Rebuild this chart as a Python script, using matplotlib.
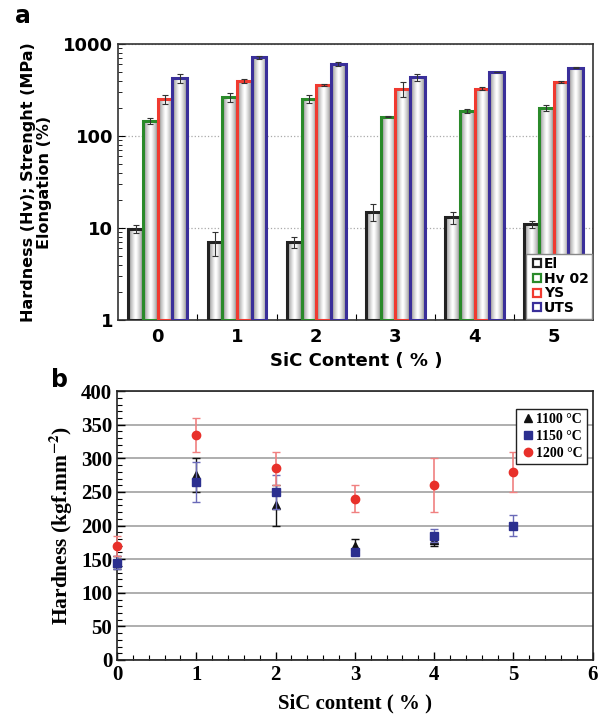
import numpy as np
import matplotlib
matplotlib.use('Agg')
import matplotlib.pyplot as plt
from matplotlib.lines import Line2D

plt.rcParams['mathtext.fontset'] = 'stix'

# ---- panel a data ----
sic = [0, 1, 2, 3, 4, 5]
props = ['El', 'Hv 02', 'YS', 'UTS']
el = [9.8, 7.0, 7.0, 15.0, 13.0, 11.0]
el_err = [1.0, 2.0, 1.0, 3.0, 2.0, 1.0]
hv = [146, 263, 252, 162, 187, 200]
hv_err = [10, 30, 25, 3, 8, 15]
ys = [252, 396, 358, 322, 327, 383]
ys_err = [30, 20, 10, 60, 10, 10]
uts = [424, 717, 606, 435, 496, 553]
uts_err = [45, 25, 30, 35, 5, 10]

# ---- panel b data ----
t1100_x = [0, 1, 2, 3, 4]
t1100 = [145, 275, 230, 170, 178]
t1100_err = [10, 25, 30, 10, 8]
t1150_x = [0, 1, 2, 3, 4, 5]
t1150 = [145, 265, 250, 160, 185, 200]
t1150_err = [10, 30, 25, 3, 10, 15]
t1200_x = [0, 1, 2, 3, 4, 5]
t1200 = [170, 335, 285, 240, 260, 280]
t1200_err = [15, 25, 25, 20, 40, 30]

fig = plt.figure(figsize=(6, 7.17), dpi=100)

# ================= panel a =================
ax = fig.add_axes([0.197, 0.5537, 0.792, 0.385])
ax.set_yscale('log')
w = 0.185
edge_cols = ['#222222', '#2a8a2a', '#f03a30', '#3a2f9a']
grad = np.abs(np.linspace(-1, 1, 64)) ** 1.3
grad = (1 - 0.45 * grad)[None, :]
x = np.array(sic, dtype=float)
for i, (vals, errs) in enumerate(zip([el, hv, ys, uts], [el_err, hv_err, ys_err, uts_err])):
    xs = x + (i - 1.5) * w
    vals = np.array(vals, dtype=float)
    bars = ax.bar(xs, vals - 1, width=w, bottom=1, facecolor='none', edgecolor=edge_cols[i],
                  linewidth=2.2, zorder=4)
    for b, v in zip(bars, vals):
        x0 = b.get_x()
        im = ax.imshow(grad, cmap='gray', vmin=0, vmax=1, aspect='auto',
                       extent=[x0, x0 + w, 1, v], zorder=3, interpolation='bilinear')
        im.set_clip_path(b)
    ax.errorbar(xs, vals, yerr=errs, fmt='none', ecolor='#333333', elinewidth=0.8,
                capsize=2, capthick=0.8, zorder=5)

ax.set_xlim(-0.5, 5.5)
ax.set_ylim(1, 1000)
ax.set_xticks(sic)
ax.set_xticklabels([str(s) for s in sic])
ax.set_xticks(np.arange(0.5, 5.5, 1), minor=True)
ax.tick_params(axis='x', which='major', length=0, labelsize=13, pad=6)
ax.tick_params(axis='x', which='minor', direction='in', length=4, width=0.8)
ax.tick_params(axis='y', which='both', direction='in', labelsize=13)
ax.tick_params(axis='y', which='major', length=5)
ax.tick_params(axis='y', which='minor', length=3)
ax.yaxis.set_major_formatter(matplotlib.ticker.FuncFormatter(lambda v, p: '%d' % v))
for lab in ax.get_xticklabels() + ax.get_yticklabels():
    lab.set_fontweight('bold')
ax.grid(axis='y', which='major', color='#aaaaaa', linestyle=':', linewidth=0.9, zorder=0)
ax.set_axisbelow(True)
for sp in ax.spines.values():
    sp.set_linewidth(1.2)
    sp.set_color('#333333')
ax.set_ylabel('Hardness (Hv); Strenght (MPa)\nElongation (%)', fontsize=11.5,
              fontweight='bold', linespacing=1.1, labelpad=8)
ax.set_xlabel('SiC Content ( % )', fontsize=13, fontweight='bold', labelpad=4)
handles = [Line2D([], [], linestyle='none', marker='s', markersize=6, markerfacecolor='white',
                  markeredgecolor=c, markeredgewidth=1.6) for c in edge_cols]
leg = ax.legend(handles, props, loc='lower right', prop={'weight': 'bold', 'size': 10},
                handletextpad=0.0, handlelength=1.0, borderpad=0.25, labelspacing=0.05,
                fancybox=False, framealpha=1, edgecolor='#888888', borderaxespad=0.1)
leg.set_zorder(10)
fig.text(0.025, 0.978, 'a', fontsize=17, fontweight='bold', va='center')

# ================= panel b =================
serif = ['Liberation Serif', 'DejaVu Serif']
bx = fig.add_axes([0.195, 0.0795, 0.793, 0.375])
bx.errorbar(t1100_x, t1100, yerr=t1100_err, fmt='^', color='#111111', markersize=6,
            elinewidth=1.0, capsize=3, capthick=1.0, zorder=3, label='1100 °C', clip_on=False)
bx.errorbar(t1150_x, t1150, yerr=t1150_err, fmt='s', color='#2b2f8f', ecolor='#6a6ab8',
            markersize=5.5, elinewidth=1.0, capsize=3, capthick=1.0, zorder=4, label='1150 °C',
            clip_on=False)
bx.errorbar(t1200_x, t1200, yerr=t1200_err, fmt='o', color='#e8302a', ecolor='#f08080',
            markersize=6, elinewidth=1.2, capsize=3, capthick=1.0, zorder=5, label='1200 °C',
            clip_on=False)
bx.set_xlim(0, 6)
bx.set_ylim(0, 400)
bx.set_xticks(range(0, 7))
bx.set_yticks(range(0, 401, 50))
bx.set_xticks(np.arange(0, 6.01, 0.2), minor=True)
bx.set_yticks(range(0, 401, 10), minor=True)
bx.tick_params(which='both', direction='in', top=False, right=False)
bx.tick_params(which='major', length=6, width=1.0, labelsize=15)
bx.tick_params(which='minor', length=3.5, width=0.8)
for lab in bx.get_xticklabels() + bx.get_yticklabels():
    lab.set_fontweight('bold')
    lab.set_family(serif)
bx.grid(axis='y', which='major', color='#999999', linewidth=1.1, zorder=0)
bx.set_axisbelow(True)
for sp in bx.spines.values():
    sp.set_linewidth(1.2)
    sp.set_color('#222222')
bx.set_ylabel('Hardness (kgf.mm$^{\\mathbf{-2}}$)', fontsize=15.5, fontweight='bold',
              family=serif, labelpad=4)
bx.set_xlabel('SiC content ( % )', fontsize=15, fontweight='bold', family=serif, labelpad=6)
h, l = bx.get_legend_handles_labels()
h = [hh[0] for hh in h]
leg2 = bx.legend(h, l, loc='upper right', bbox_to_anchor=(0.987, 0.935),
                 prop={'family': serif, 'weight': 'bold', 'size': 10},
                 handletextpad=0.0, handlelength=1.1, borderpad=0.3, labelspacing=0.3,
                 fancybox=False, framealpha=1, edgecolor='#222222', borderaxespad=0)
leg2.get_frame().set_linewidth(1.0)
fig.text(0.085, 0.47, 'b', fontsize=17, fontweight='bold', va='center')

fig.savefig('out.png', dpi=100)
